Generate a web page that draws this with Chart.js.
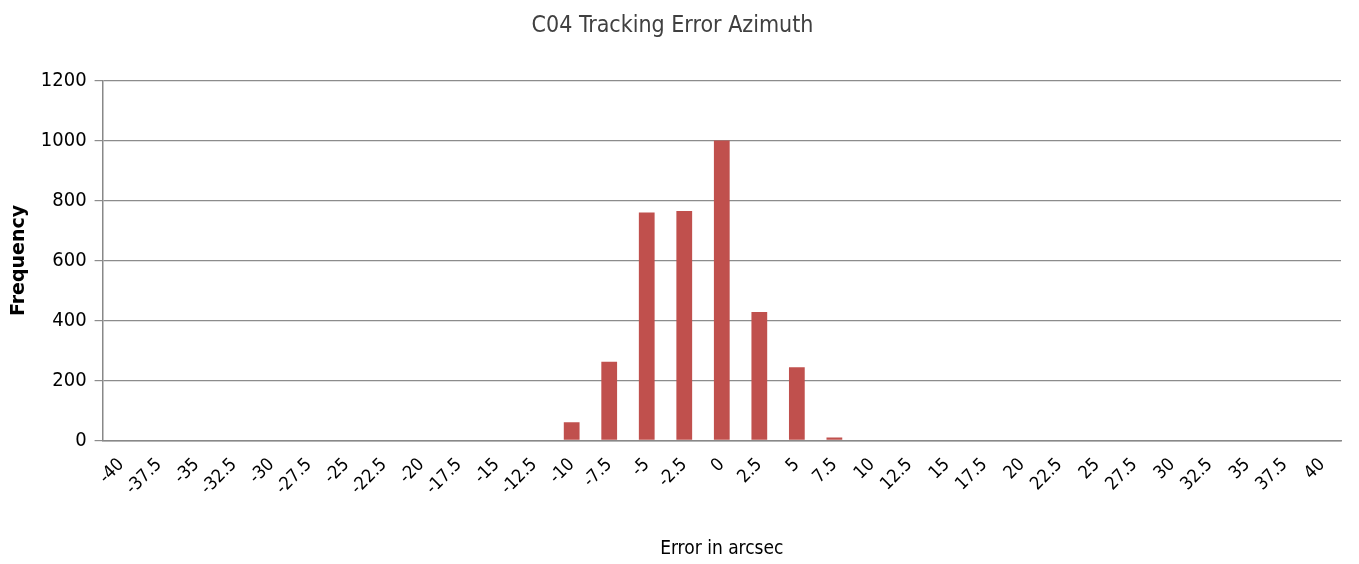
<!DOCTYPE html>
<html>
<head>
<meta charset="utf-8">
<script src="https://cdn.jsdelivr.net/npm/chart.js@4"></script>
<style>
body{margin:0;background:#fff;}
#box{width:1359px;height:564px;}
</style>
</head>
<body>
<div id="box"><canvas id="grafico"></canvas></div>
<script>
const categorias = [
"-40","-37.5","-35","-32.5","-30","-27.5","-25","-22.5","-20","-17.5","-15","-12.5",
"-10","-7.5","-5","-2.5","0","2.5","5","7.5","10","12.5","15","17.5","20","22.5",
"25","27.5","30","32.5","35","37.5","40"
];

const frequencia = [
0,0,0,0,0,0,0,0,0,0,0,0,
60,262,760,765,1000,428,244,9,0,0,0,0,0,0,
0,0,0,0,0,0,0
];

const fonte = "'DejaVu Sans Condensed','Liberation Sans Narrow',sans-serif";

const ctx = document.getElementById("grafico");

new Chart(ctx,{
type:"bar",
data:{
labels:categorias,
datasets:[{
data:frequencia,
backgroundColor:"#c0504d",
barPercentage:0.42,
categoryPercentage:1
}]
},
options:{
responsive:true,
maintainAspectRatio:false,
animation:false,
layout:{padding:{left:4,right:18,top:2,bottom:0}},
plugins:{
legend:{display:false},
tooltip:{enabled:false},
title:{
display:true,
text:"C04 Tracking Error Azimuth",
color:"#404040",
font:{family:fonte,size:23,weight:"normal"},
padding:{top:10,bottom:41}
}
},
scales:{
x:{
grid:{display:false,drawTicks:false},
border:{color:"#888",width:1.5},
ticks:{
color:"#000",
font:{family:fonte,size:18},
minRotation:45,
maxRotation:45,
padding:14,
autoSkip:false
},
title:{
display:true,
text:"Error in arcsec",
color:"#000",
font:{family:fonte,size:19},
padding:{top:24}
}
},
y:{
min:0,
max:1200,
ticks:{
stepSize:200,
color:"#000",
font:{family:fonte,size:20},
padding:8,
callback:v=>String(v)
},
grid:{color:"#8c8c8c",lineWidth:1.2,tickLength:8},
border:{color:"#888",width:1.5},
title:{
display:true,
text:"Frequency",
color:"#000",
font:{family:"'DejaVu Sans',sans-serif",size:19,weight:"bold"},
padding:{bottom:2}
}
}
}
}
});
</script>
</body>
</html>
